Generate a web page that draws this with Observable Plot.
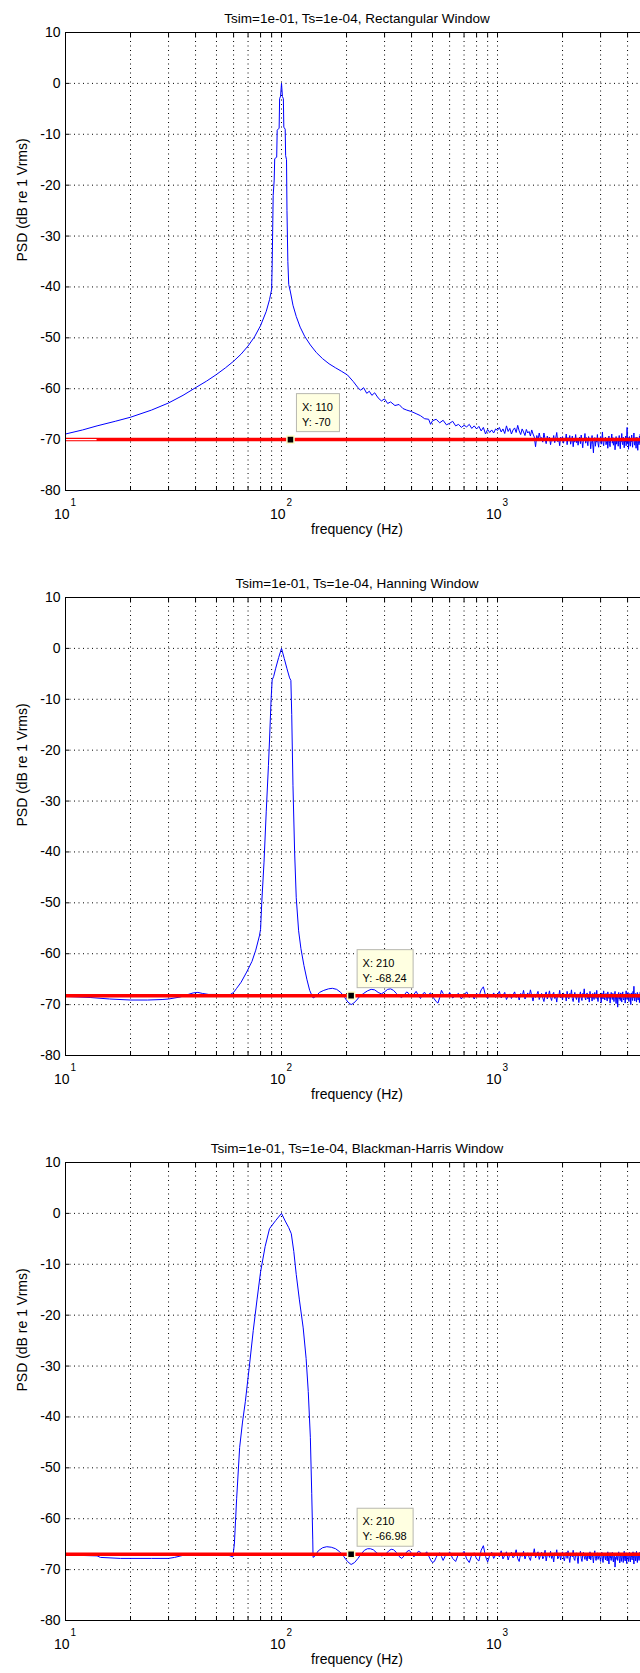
<!DOCTYPE html>
<html>
<head>
<meta charset="utf-8">
<script src="https://cdn.jsdelivr.net/npm/d3@7"></script>
<script src="https://cdn.jsdelivr.net/npm/@observablehq/plot@0.6"></script>
<style>
  html, body { margin: 0; padding: 0; background: #fff; }
  body { width: 640px; overflow: hidden; }
  #charts svg { display: block; }
</style>
</head>
<body>
<div id="charts"></div>
<script>
const FONT = '"Liberation Sans", Arial, Helvetica, sans-serif';

// ---------- labels & ticks ----------
const titles = [
  "Tsim=1e-01, Ts=1e-04, Rectangular Window",
  "Tsim=1e-01, Ts=1e-04, Hanning Window",
  "Tsim=1e-01, Ts=1e-04, Blackman-Harris Window"
];
const xLabel = "frequency (Hz)";
const yLabel = "PSD (dB re 1 Vrms)";
const xMajor = [10, 100, 1000];
const xExponents = ["1", "2", "3"];
const xGrid = [20, 30, 40, 50, 60, 70, 80, 90, 100, 200, 300, 400, 500, 600, 700, 800, 900, 1000, 2000, 3000, 4000];
const xTickAll = [10, 20, 30, 40, 50, 60, 70, 80, 90, 100, 200, 300, 400, 500, 600, 700, 800, 900, 1000, 2000, 3000, 4000];
const yTicks = [-80, -70, -60, -50, -40, -30, -20, -10, 0, 10];
const yGrid = [-70, -60, -50, -40, -30, -20, -10, 0];

// data-tip values (also the level of the red line)
const tipX = [110, 210, 210];
const tipY = [-70, -68.24, -66.98];

// ---------- Rectangular window: low band [freq, dB] ----------
const rectLow = [
  [10,-68.9],[12,-68.1],[14,-67.3],[17,-66.4],[20,-65.6],[25,-64.2],[30,-62.8],[35,-61.3],[40,-59.8],
  [45,-58.5],[50,-57.2],[55,-55.9],[60,-54.6],[65,-53.2],[70,-51.6],[75,-49.8],[80,-47.6],[85,-44.8],
  [88,-42.5],[90,-40.5],[90.5,-36],[91,-29],[91.5,-22],[92.5,-19],[93,-14.8],[95,-14.5],[95.5,-9.2],
  [97.5,-8.8],[98,-3],[99,-2.5],[100,0],[101,-2.6],[102,-3],[102.5,-8.6],[104,-9],[104.5,-14.2],
  [105.5,-15],[106,-25],[107,-35],[108,-39.5],[110,-41],[113,-43.6],[117,-45.8],[122,-47.9],[128,-49.7],
  [136,-51.4],[145,-52.9],[155,-54.1],[166,-55.1],[178,-55.9],[190,-56.6],[202,-57.3],[215,-58.6],
  [225,-59.7],[232,-60.3],[240,-59.8],[248,-60.9],[255,-60.5],[262,-61.3],[270,-60.8],[280,-61.8],
  [290,-62.4],[300,-62.0],[310,-62.9],[320,-62.6],[335,-63.3],[350,-63.1],[365,-63.9],[380,-64.2],
  [400,-64.5],[420,-64.9],[440,-65.3],[460,-65.9],[480,-66.0],[490,-67.0],[500,-66.3],[520,-66.0],
  [540,-66.7],[560,-66.2],[580,-67.1],[600,-66.8],[620,-66.4],[640,-67.3],[660,-67.0],[680,-67.6],
  [700,-67.2],[720,-67.5],[740,-67.0],[760,-67.8],[780,-67.3],[800,-67.9],[820,-67.4],[840,-68.3],
  [860,-67.6],[880,-68.9],[900,-68.0],[920,-68.6],[940,-68.1],[960,-68.7],[980,-67.9]
];
// ---------- Hanning window: low band ----------
const hannLow = [
  [10,-68.4],[13,-68.6],[16,-68.9],[20,-69.1],[24,-69.1],[28,-69.0],[30,-68.9],[34,-68.5],[37,-68.0],
  [39,-67.7],[41,-67.6],[43,-67.8],[46,-68.0],[50,-68.0],[55,-68.1],[58,-68.0],[60,-67.6],[62,-66.8],
  [65,-65.6],[69,-63.6],[73,-61.5],[76,-59.3],[79,-56.5],[80,-55.2],[81,-50],[83,-42],[85,-32],[87,-23],
  [88,-18],[89.5,-10],[90.5,-6.2],[92,-5.5],[94,-3.9],[97,-1.8],[100,0],[103,-2],[106,-4],[109,-5.8],
  [110.5,-6.3],[111.5,-13],[113,-27],[115,-40],[117,-49],[120,-55.5],[123,-59],[127,-62.3],[131,-65],
  [135,-67.2],[140,-68.7],[144,-68.4],[150,-67.6],[157,-67.2],[165,-66.9],[172,-66.8],[180,-67.0],
  [188,-67.6],[196,-68.6],[203,-69.5],[210,-70.0],[216,-69.7],[223,-69.1],[230,-68.4],[240,-67.8],
  [250,-67.3],[260,-67.0],[270,-67.1],[280,-67.6],[290,-67.9],[300,-67.5],[310,-67.0],[320,-66.9],
  [330,-67.2],[340,-67.8],[350,-68.3],[360,-68.6],[370,-68.1],[380,-67.5],[390,-67.9],[400,-68.5],
  [410,-68.0],[420,-67.4],[430,-68.2],[440,-68.8],[450,-67.9],[460,-67.6],[470,-68.3],[480,-68.0],
  [490,-67.7],[500,-68.4],[510,-68.9],[520,-69.4],[530,-69.7],[540,-68.6],[550,-67.2],[560,-67.8],
  [570,-68.5],[580,-67.9],[590,-68.3],[600,-67.6],[620,-68.7],[640,-68.2],[660,-67.8],[680,-68.9],
  [700,-68.1],[720,-67.5],[740,-68.6],[760,-68.0],[780,-68.9],[800,-67.8],[820,-68.4],[840,-67.1],
  [860,-66.5],[880,-68.2],[900,-68.8],[920,-67.9],[940,-68.5],[960,-67.7],[980,-68.6]
];
// ---------- Blackman-Harris window: low band ----------
const bhLow = [
  [10,-67.2],[11.5,-67.2],[14,-67.3],[14.5,-67.6],[18,-67.8],[25,-67.8],[30,-67.8],[32,-67.6],[35,-67.2],
  [40,-67.1],[50,-67.2],[57,-67.2],[59.5,-67.5],[60.5,-65],[62,-56],[64,-46],[66,-41],[68,-37],[71,-30],
  [74,-23],[77,-17],[80,-11.5],[84,-6.5],[88,-3],[94,-1.4],[100,0],[104,-1.5],[108,-2.8],[111,-4],
  [114,-7.5],[117,-12],[121,-17],[126,-22.5],[130,-28.5],[133,-35],[136,-44],[138,-55],[139.5,-64],
  [140,-67.6],[143,-67.3],[148,-66.3],[155,-65.7],[162,-65.5],[170,-65.6],[178,-65.9],[186,-66.5],
  [194,-67.4],[202,-68.4],[210,-69.0],[218,-68.6],[226,-67.8],[234,-66.9],[242,-66.2],[250,-65.9],
  [258,-65.9],[266,-66.1],[274,-66.6],[282,-67.0],[290,-67.3],[298,-67.2],[306,-66.8],[314,-66.3],
  [322,-66.0],[330,-66.1],[340,-66.6],[350,-67.4],[360,-67.8],[370,-67.3],[380,-66.5],[390,-66.2],
  [400,-66.8],[410,-67.5],[420,-67.0],[430,-66.4],[440,-66.6],[450,-67.2],[460,-67.0],[470,-66.5],
  [480,-67.3],[490,-68.1],[500,-68.6],[510,-68.4],[520,-67.6],[530,-66.9],[540,-66.7],[550,-67.4],
  [560,-68.2],[570,-67.5],[580,-66.8],[590,-67.3],[600,-66.5],[620,-67.8],[640,-68.4],[660,-66.9],
  [680,-67.2],[700,-66.4],[720,-67.9],[740,-68.6],[760,-67.1],[780,-66.7],[800,-67.9],[820,-68.3],
  [840,-66.2],[860,-65.3],[880,-67.4],[900,-68.5],[920,-67.2],[940,-66.6],[960,-67.8],[980,-67.1]
];

// ---------- high band: FFT bins 1000..5000 Hz every 20 Hz ----------
const noiseFreq = d3.range(1000, 5001, 20);
const rectNoise = [
  -68.2,-67.6,-68.5,-67.9,-68.8,-67.3,-68.4,-67.8,-68.9,-68.1,
  -67.7,-68.6,-67.2,-68.3,-69.0,-67.9,-68.5,-69.2,-68.0,-68.7,
  -68.4,-69.3,-68.1,-68.9,-69.5,-71.4,-69.2,-70.1,-68.7,-69.8,
  -69.6,-70.5,-68.7,-69.9,-70.8,-69.3,-70.2,-69.5,-71.0,-69.8,
  -70.3,-69.2,-70.6,-69.7,-68.6,-70.4,-69.9,-71.2,-69.5,-70.1,
  -69.4,-70.7,-69.8,-70.2,-68.9,-71.0,-69.6,-70.3,-69.2,-70.9,
  -70.1,-69.3,-71.4,-69.8,-70.5,-69.0,-70.6,-69.7,-71.1,-70.0,
  -69.5,-70.8,-69.1,-70.4,-71.6,-69.9,-70.2,-68.8,-70.7,-69.6,
  -70.3,-71.2,-69.4,-70.0,-69.7,-71.8,-70.4,-69.2,-70.9,-72.6,
  -70.1,-69.6,-71.3,-69.9,-70.5,-69.0,-70.8,-71.5,-69.7,-70.2,
  -69.4,-70.9,-70.1,-68.5,-70.6,-71.2,-69.8,-70.3,-69.5,-71.0,
  -70.4,-69.7,-71.7,-70.0,-69.3,-70.8,-71.4,-69.9,-70.2,-68.9,
  -70.7,-69.6,-71.1,-70.3,-69.8,-72.0,-70.5,-69.4,-70.9,-70.1,
  -69.7,-71.3,-70.0,-69.2,-70.6,-71.8,-69.9,-70.4,-68.8,-70.7,
  -71.0,-69.5,-70.2,-71.6,-69.8,-70.5,-69.3,-71.2,-70.0,-67.6,
  -70.8,-69.6,-71.9,-70.1,-69.4,-70.7,-71.3,-69.9,-70.4,-69.1,
  -70.6,-71.5,-69.8,-70.2,-68.7,-70.9,-71.1,-69.6,-70.3,-71.7,
  -70.0,-69.5,-70.8,-72.1,-69.9,-70.4,-71.0,-69.3,-70.6,-68.9,
  -70.5,-71.4,-69.7,-70.1,-71.2,-69.8,-70.7,-72.3,-69.6,-70.3,
  -70.9,-69.4,-71.1,-70.2,-69.8,-71.6,-70.4,-69.7,-71.0,-70.2,
  -70.5
];
const hannNoise = [
  -68.0,-67.4,-68.7,-68.2,-67.6,-69.0,-68.3,-67.9,-68.8,-68.1,
  -67.5,-68.6,-68.0,-69.1,-67.8,-68.4,-67.2,-68.9,-68.3,-67.7,
  -68.5,-67.1,-68.2,-69.3,-67.9,-68.6,-68.0,-67.4,-69.0,-68.3,
  -67.8,-68.7,-69.4,-68.1,-67.5,-68.9,-68.2,-67.3,-68.6,-69.2,
  -68.0,-67.6,-68.8,-68.3,-69.5,-67.9,-68.4,-67.2,-68.7,-68.1,
  -69.1,-67.7,-68.5,-68.0,-69.3,-67.4,-68.6,-68.9,-67.8,-68.3,
  -67.1,-68.8,-69.4,-68.2,-67.6,-68.5,-69.0,-67.9,-68.4,-69.6,
  -68.1,-67.5,-68.7,-69.2,-67.8,-68.3,-66.9,-68.6,-69.1,-68.0,
  -67.7,-68.9,-68.2,-69.5,-67.4,-68.6,-68.0,-69.3,-67.8,-68.4,
  -69.0,-67.6,-68.3,-68.8,-67.2,-68.7,-69.4,-68.1,-67.9,-68.5,
  -68.2,-69.6,-67.7,-68.4,-68.9,-67.3,-68.6,-69.1,-68.0,-67.8,
  -68.7,-69.3,-67.5,-68.2,-68.8,-67.9,-69.7,-68.4,-67.6,-68.5,
  -69.0,-67.8,-68.3,-69.4,-68.1,-67.4,-68.7,-69.8,-68.2,-67.9,
  -70.5,-68.4,-67.6,-68.9,-68.3,-69.2,-67.7,-68.6,-69.5,-68.0,
  -67.5,-68.8,-69.1,-68.2,-67.9,-69.7,-68.4,-67.3,-68.6,-69.0,
  -68.1,-67.6,-68.9,-69.4,-68.2,-67.8,-68.5,-70.0,-68.3,-67.7,
  -68.8,-69.2,-67.4,-68.6,-66.4,-68.9,-69.3,-68.0,-67.8,-68.7,
  -69.5,-68.2,-67.6,-68.8,-69.1,-67.9,-68.4,-69.6,-68.1,-67.5,
  -68.7,-69.2,-68.0,-67.7,-68.9,-69.4,-68.3,-67.6,-68.5,-69.0,
  -68.2,-67.8,-69.3,-68.6,-67.4,-68.9,-68.1,-69.5,-68.0,-67.7,
  -68.3
];
const bhNoise = [
  -66.8,-67.5,-66.3,-67.9,-67.2,-66.5,-68.1,-67.0,-66.6,-67.7,
  -67.3,-66.1,-67.8,-68.4,-66.9,-67.4,-66.4,-67.9,-67.1,-66.7,
  -67.6,-68.2,-66.8,-67.3,-65.9,-67.7,-67.0,-66.5,-68.0,-67.2,
  -66.6,-67.9,-67.4,-66.2,-68.3,-67.1,-66.8,-67.6,-66.4,-67.8,
  -67.2,-68.5,-66.7,-67.3,-66.1,-67.9,-67.5,-66.9,-68.1,-67.0,
  -66.5,-67.7,-68.3,-67.1,-66.6,-67.8,-66.3,-67.4,-68.6,-67.2,
  -66.8,-67.5,-66.2,-67.9,-68.2,-67.0,-66.7,-67.6,-68.8,-66.9,
  -67.3,-66.4,-67.8,-68.4,-67.1,-66.6,-67.5,-68.0,-66.8,-67.7,
  -68.3,-66.9,-67.2,-67.9,-66.5,-68.1,-67.4,-66.8,-67.6,-68.7,
  -67.0,-66.3,-67.8,-68.2,-67.3,-66.7,-68.0,-67.5,-66.9,-67.8,
  -68.4,-67.1,-66.6,-67.9,-68.6,-67.2,-66.8,-67.5,-68.1,-66.9,
  -67.4,-68.3,-66.5,-67.7,-68.9,-67.0,-66.7,-67.8,-68.2,-67.3,
  -66.6,-67.9,-68.5,-67.2,-66.8,-69.5,-67.6,-68.0,-66.9,-67.4,
  -68.2,-67.1,-66.5,-67.8,-68.7,-67.3,-66.9,-68.4,-67.6,-66.8,
  -67.5,-68.6,-67.0,-66.4,-67.9,-68.3,-67.2,-66.7,-68.8,-67.4,
  -66.9,-67.7,-68.4,-67.1,-66.6,-67.9,-68.5,-67.3,-66.8,-67.6,
  -68.1,-67.0,-66.5,-67.8,-68.9,-67.2,-66.7,-67.5,-68.3,-67.0,
  -66.4,-67.9,-68.6,-67.3,-66.8,-67.5,-68.2,-67.1,-66.6,-67.8,
  -68.4,-67.2,-66.9,-67.6,-68.0,-66.7,-67.4,-68.5,-67.1,-66.8,
  -67.7,-68.3,-67.0,-66.6,-67.9,-68.1,-67.3,-66.9,-67.6,-68.2,
  -67.4
];

const lows = [rectLow, hannLow, bhLow];
const noises = [rectNoise, hannNoise, bhNoise];
// the rectangular panel has a short hollow start to its red line
const hollowSpans = [[{y: -70, x1: 10, x2: 14}], [], []];

function buildSeries(low, noise) {
  const pts = low.map(([f, db]) => ({f, db}));
  noiseFreq.forEach((f, i) => pts.push({f, db: noise[i]}));
  return pts;
}

const grid = {stroke: "#000", strokeWidth: 1, strokeDasharray: "1,3.5"};
const container = document.getElementById("charts");

for (let k = 0; k < 3; k++) {
  const series = buildSeries(lows[k], noises[k]);
  const chart = Plot.plot({
    width: 640,
    height: 565,
    marginLeft: 65,
    marginRight: -8,
    marginTop: 32,
    marginBottom: 75,
    style: {fontFamily: FONT, fontSize: "14px", color: "#000", background: "#fff"},
    x: {type: "log", domain: [10, 5000], axis: null, label: null},
    y: {domain: [-80, 10], axis: null, label: null},
    marks: [
      Plot.ruleX(xGrid, {x: d => d, ...grid}),
      Plot.ruleY(yGrid, {y: d => d, ...grid}),
      Plot.axisX({anchor: "bottom", ticks: xTickAll, tickSize: -4, tickFormat: () => "", label: null, stroke: "#000"}),
      Plot.axisX({anchor: "top", ticks: xTickAll, tickSize: -4, tickFormat: () => "", label: null, stroke: "#000"}),
      Plot.axisY({anchor: "left", ticks: yTicks, tickSize: -4, tickFormat: () => "", label: null, stroke: "#000"}),
      Plot.axisY({anchor: "left", ticks: yTicks, tickSize: 0, tickPadding: 5, tickFormat: d => String(d), label: null, fontSize: 14}),
      Plot.text(xMajor, {x: d => d, text: () => "10", frameAnchor: "bottom", textAnchor: "end", lineAnchor: "bottom", dx: 4, dy: 28, fontSize: 14}),
      Plot.text(xMajor, {x: d => d, text: (d, i) => xExponents[i], frameAnchor: "bottom", textAnchor: "start", lineAnchor: "bottom", dx: 5, dy: 15, fontSize: 10}),
      Plot.line(series, {x: "f", y: "db", stroke: "#0000ff", strokeWidth: 1}),
      Plot.ruleY([tipY[k]], {y: d => d, stroke: "#ff0000", strokeWidth: 3.5}),
      Plot.ruleY(hollowSpans[k], {y: "y", x1: "x1", x2: "x2", stroke: "#ffffff", strokeWidth: 1.2}),
      Plot.frame({stroke: "#000", strokeWidth: 1}),
      Plot.text([titles[k]], {text: d => d, frameAnchor: "top", lineAnchor: "bottom", dy: -10, fontSize: 13.5}),
      Plot.text([xLabel], {text: d => d, frameAnchor: "bottom", lineAnchor: "bottom", dy: 43, fontSize: 14}),
      Plot.text([yLabel], {text: d => d, frameAnchor: "left", rotate: -90, dx: -43, fontSize: 14}),
      Plot.dot([{x: tipX[k], y: tipY[k]}], {x: "x", y: "y", symbol: "square", r: 4, fill: "#000", stroke: "#ffffc8", strokeWidth: 1.5})
    ]
  });

  // data-tip box, positioned through the chart's own scales
  const px = chart.scale("x").apply(tipX[k]);
  const py = chart.scale("y").apply(tipY[k]);
  const g = d3.select(chart).append("g")
    .attr("font-family", FONT).attr("font-size", 11).attr("fill", "#000")
    .attr("text-anchor", "start");
  const rect = g.append("rect").attr("fill", "#ffffe1").attr("stroke", "#b8b8b0").attr("stroke-width", 1);
  const t1 = g.append("text").attr("text-anchor", "start").attr("x", px + 12).attr("y", py - 28.5).text(`X: ${tipX[k]}`);
  const t2 = g.append("text").attr("text-anchor", "start").attr("x", px + 12).attr("y", py - 13.5).text(`Y: ${tipY[k]}`);
  container.appendChild(chart);
  const w = Math.max(t1.node().getComputedTextLength(), t2.node().getComputedTextLength());
  rect.attr("x", px + 6.5).attr("y", py - 45.5).attr("width", Math.round(w + 12)).attr("height", 38);
}
</script>
</body>
</html>
